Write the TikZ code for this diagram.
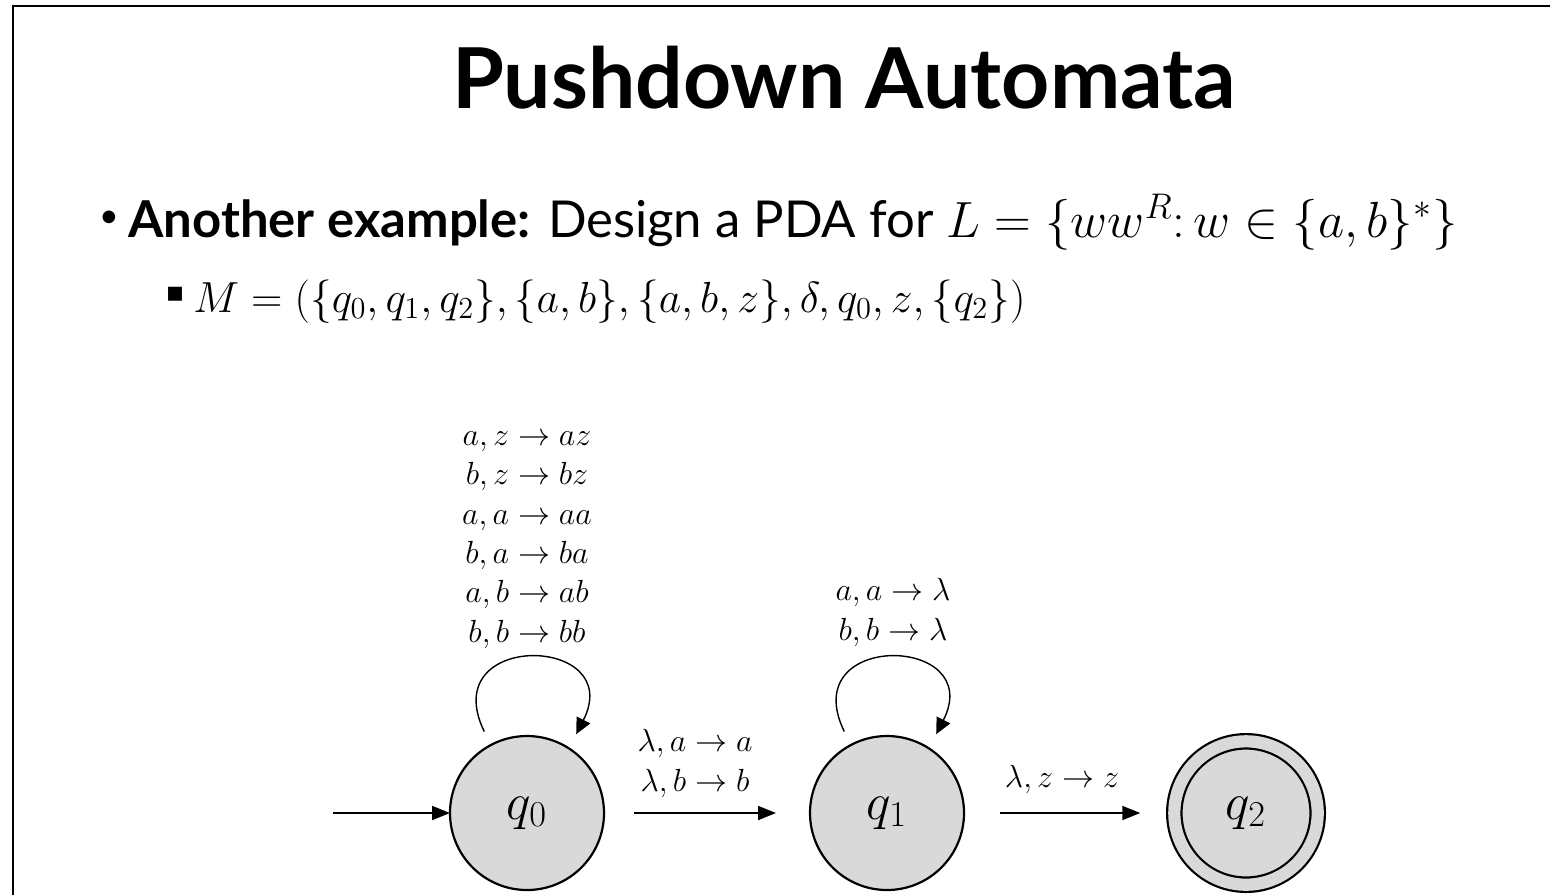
\RequirePackage{fix-cm}
\documentclass[tikz,border=0pt]{standalone}
\usepackage{fontspec}
\setmainfont{Lato}
\newfontfamily\symfont{DejaVu Sans}
\usepackage{graphicx}
\usetikzlibrary{arrows.meta}
\definecolor{stfill}{HTML}{D9D9D9}
\tikzset{
  pdastate/.style={circle, draw, line width=1.1pt, fill=stfill, minimum size=77pt,
    inner sep=0pt, outer sep=0pt, font=\fontsize{26}{28}\selectfont},
  pdaaccept/.style={pdastate, double=stfill, double distance=6.1pt, minimum size=71.7pt},
  lbl/.style={align=center, inner sep=0pt, font=\fontsize{16}{19.65}\selectfont},
  arr/.style={line width=0.9pt, -{Triangle[length=9pt,width=7pt]}},
  loopline/.style={line width=0.7pt, -{Triangle[length=8pt,width=7.5pt]},
    shorten <=7.5pt, shorten >=8pt},
}
\begin{document}
\begin{tikzpicture}[x=0.5pt, y=-0.5pt]
\useasboundingbox (0,0) rectangle (1550,895);
% slide frame
\draw[line width=1pt] (13,895) -- (13,6) -- (1550,6);

% title
\node[anchor=base, inner sep=0pt] (title) at (844,108)
  {\resizebox{392pt}{!}{\bfseries Pushdown Automata}};

% bullet line
\node[inner sep=0pt] (dot) at (109,219) {\fontsize{17}{17}\selectfont •};
\node[anchor=base west, inner sep=0pt] (line1) at (128,237)
  {\resizebox{664.5pt}{!}{\fontsize{28}{30}\selectfont\textbf{Another example:} Design a PDA for $L = \{ww^R\colon w \in \{a,b\}^*\}$}};

% sub bullet
\node[inner sep=0pt] (sq) at (175,294) {\fontsize{14}{14}\symfont ▪};
\node[anchor=base west, inner sep=0pt] (line2) at (193,312)
  {\resizebox{416pt}{!}{\fontsize{24}{26}\selectfont $M = (\{q_0, q_1, q_2\}, \{a, b\}, \{a, b, z\}, \delta, q_0, z, \{q_2\})$}};

% states
\node[pdastate] (q0) at (527,813) {$q_0$};
\node[pdastate] (q1) at (887,813) {$q_1$};
\node[pdaaccept] (q2) at (1246,813) {$q_2$};
\coordinate (init) at (333,813);

% transitions
\draw[arr] (init) -- (q0);
\draw[arr, shorten <=15pt, shorten >=17pt] (q0) -- (q1);
\draw[arr, shorten <=18pt, shorten >=17pt] (q1) -- (q2);

\draw[loopline] (q0.118) .. controls +(116:64pt) and +(63:64pt) .. (q0.57);
\draw[loopline] (q1.118) .. controls +(116:64pt) and +(63:64pt) .. (q1.57);

% labels (base anchor = baseline of the last line)
\node[lbl, anchor=base] (l0) at (527,642)
  {$a, z \to az$\\ $b, z \to bz$\\ $a, a \to aa$\\ $b, a \to ba$\\ $a, b \to ab$\\ $b, b \to bb$};
\node[lbl, anchor=base] (l1) at (893,640) {$a, a \to \lambda$\\ $b, b \to \lambda$};
\node[lbl, anchor=base] (e01) at (695,791) {$\lambda, a \to a$\\ $\lambda, b \to b$};
\node[lbl, anchor=base] (e12) at (1062,787) {$\lambda, z \to z$};
\end{tikzpicture}
\end{document}
